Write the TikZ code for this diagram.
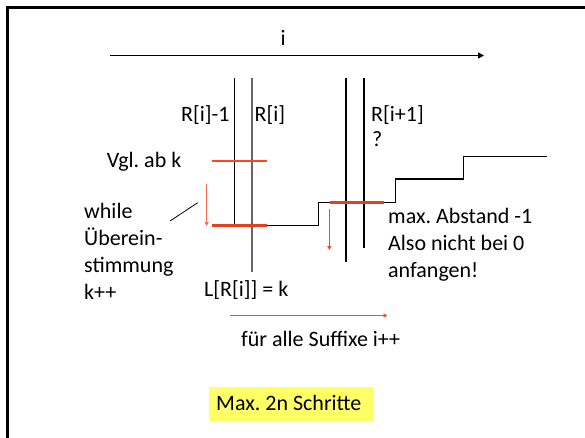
\documentclass[tikz,border=0pt]{standalone}
\usepackage{fontspec}
\setmainfont{Carlito}
\usetikzlibrary{arrows.meta}
\definecolor{redA}{HTML}{FF4422}
\definecolor{redB}{HTML}{E2401E}
\definecolor{redC}{HTML}{FF6A4A}
\definecolor{grayline}{HTML}{666666}
\definecolor{yellowbox}{HTML}{FFFF66}
\frenchspacing
\tikzset{
  txt/.style={anchor=base west, inner sep=0pt, font=\fontsize{22}{27}\selectfont},
  thinv/.style={line width=1.1pt, black},
  grayv/.style={line width=1.8pt, grayline},
  redmark/.style={line width=1.6pt, redA},
  redlevel/.style={line width=2.6pt, redB},
  redarrow/.style={line width=1.4pt, redA, -{Triangle[length=4pt,width=4pt]}},
  steps/.style={line width=1.5pt, black},
}
\begin{document}
\begin{tikzpicture}[x=1pt,y=-1pt]
\useasboundingbox (0,0) rectangle (585,437);
\fill[white] (-2,-2) rectangle (587,439);
% frame
\coordinate (fb) at (7.5,440);
\coordinate (ftl) at (7.5,7.5);
\coordinate (fr) at (590,7.5);
\draw[line width=3pt] (fb) -- (ftl) -- (fr);
% axis
\coordinate (ax0) at (110,55.5);
\coordinate (ax1) at (484,55.5);
\draw[line width=1.5pt, -{Triangle[length=6pt,width=6pt]}] (ax0) -- (ax1);
\node[txt] (ilab) at (280.5,45.7) {i};
% vertical lines
\coordinate (v1t) at (234.5,78.3); \coordinate (v1b) at (234.5,225.5);
\coordinate (v2t) at (252,78.3);   \coordinate (v2b) at (252,271.5);
\coordinate (v3t) at (346,78.3);   \coordinate (v3b) at (346,262);
\coordinate (v4t) at (364,78.3);   \coordinate (v4b) at (364,248);
\draw[thinv] (v1t) -- (v1b);
\draw[grayv] (v2t) -- (v2b);
\draw[thinv] (v3t) -- (v3b);
\draw[thinv] (v4t) -- (v4b);
% labels top
\node[txt] (lRim1) at (181,121.7) {R[i]-1};
\node[txt] (lRi) at (254.5,121.7) {R[i]};
\node[txt] (lRip1) at (371,121.7) {R[i+1]};
\node[txt] (lq) at (372,146.7) {?};
% step function
\coordinate (s0) at (211.7,225.5);
\coordinate (s1) at (318.3,225.5);
\coordinate (s2) at (318.3,202.5);
\coordinate (s3) at (395.3,202.5);
\coordinate (s4) at (395.3,179);
\coordinate (s5) at (463.7,179);
\coordinate (s6) at (463.7,156.5);
\coordinate (s7) at (547,156.5);
\draw[steps] (s0) -- (s1) -- (s2) -- (s3) -- (s4) -- (s5) -- (s6) -- (s7);
% red marks
\coordinate (ru0) at (211.7,161); \coordinate (ru1) at (266.7,161);
\draw[redmark] (ru0) -- (ru1);
\coordinate (rl0) at (211.7,225.5); \coordinate (rl1) at (266.7,225.5);
\draw[redlevel] (rl0) -- (rl1);
\coordinate (rs0) at (330,202.5); \coordinate (rs1) at (384.3,202.5);
\draw[redlevel] (rs0) -- (rs1);
\coordinate (a1t) at (206.7,184); \coordinate (a1b) at (206.7,226);
\draw[redarrow, redC] (a1t) -- (a1b);
\coordinate (a2t) at (329.3,209); \coordinate (a2b) at (329.3,250);
\draw[redarrow, line width=1.1pt] (a2t) -- (a2b);
\coordinate (a3l) at (230,315.5); \coordinate (a3r) at (387.5,315.5);
\draw[redarrow] (a3l) -- (a3r);
% slash pointer
\coordinate (sl0) at (170,221); \coordinate (sl1) at (197.7,202.7);
\draw[line width=0.8pt] (sl0) -- (sl1);
% texts
\node[txt] (vgl) at (106.7,167) {Vgl. ab k};
\node[txt] (w1) at (84,218.3) {while};
\node[txt] (w2) at (84,245.5) {Überein-};
\node[txt] (w3) at (84,272.5) {stimmung};
\node[txt] (w4) at (84,299.5) {k++};
\node[txt] (m1) at (388,223.5) {max. Abstand -1};
\node[txt] (m2) at (388,250.5) {Also nicht bei 0};
\node[txt] (m3) at (388,277.5) {anfangen!};
\node[txt] (lrik) at (204,296.7) {L[R[i]] = k};
\node[txt] (fuer) at (241,346) {für alle Suffixe i++};
% yellow box
\fill[yellowbox] (209.3,387.3) rectangle (373.7,420.7);
\node[txt] (max2n) at (216,410.7) {Max. 2n Schritte};
\end{tikzpicture}
\end{document}
